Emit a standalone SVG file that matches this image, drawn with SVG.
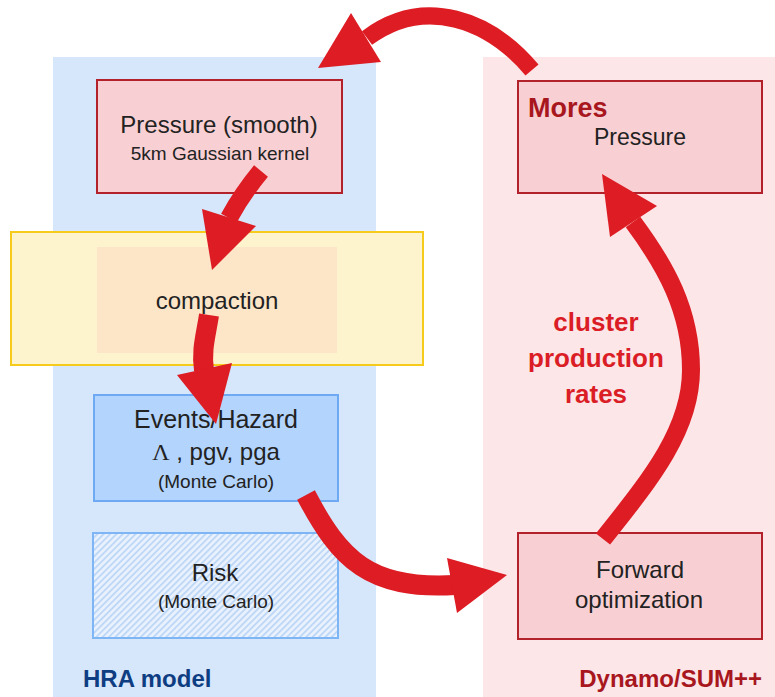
<svg xmlns="http://www.w3.org/2000/svg" width="775" height="697" viewBox="0 0 775 697">
  <style>
    .lbl { font-family: "Liberation Sans", Arial, sans-serif; fill: #222; text-anchor: middle; }
    .box-red { fill: #f8d0d3; stroke: #b3212b; stroke-width: 2; }
    .shaft { fill: none; stroke: #dd1c24; stroke-linecap: butt; }
    .head { fill: #dd1c24; }
  </style>
  <defs>
    <pattern id="hatch" width="4.5" height="4.5" patternUnits="userSpaceOnUse" patternTransform="rotate(45)">
      <rect width="4.5" height="4.5" fill="#eaf2fd"/>
      <line x1="1" y1="0" x2="1" y2="4.5" stroke="#bcd6f7" stroke-width="1.8"/>
    </pattern>
  </defs>

  <!-- background panels -->
  <g id="panels">
    <rect x="53" y="57" width="323" height="640" fill="#d6e7fb"/>
    <rect x="483" y="57" width="292" height="640" fill="#fce6e8"/>
  </g>

  <g id="compaction">
    <rect x="11" y="232" width="412" height="133" fill="#fdf3cc" stroke="#f7cb1b" stroke-width="2"/>
    <rect x="97" y="247" width="240" height="106" fill="#fde5c8"/>
    <text class="lbl" x="217" y="309" font-size="24">compaction</text>
  </g>

  <g id="pressure-smooth">
    <rect class="box-red" x="97" y="80" width="245" height="113"/>
    <text class="lbl" x="219" y="133" font-size="24">Pressure (smooth)</text>
    <text class="lbl" x="220" y="160" font-size="19">5km Gaussian kernel</text>
  </g>

  <g id="mores-pressure">
    <rect class="box-red" x="518" y="81" width="244" height="112"/>
    <text x="528" y="117" font-family="Liberation Sans, Arial, sans-serif" font-size="27" font-weight="bold" fill="#a8161e">Mores</text>
    <text class="lbl" x="640" y="145" font-size="23">Pressure</text>
  </g>

  <g id="events-hazard">
    <rect x="94" y="395" width="244" height="106" fill="#b3d4fc" stroke="#6daaf3" stroke-width="2"/>
    <text class="lbl" x="216" y="428" font-size="25">Events/Hazard</text>
    <text class="lbl" x="216" y="460" font-size="24"><tspan font-family="Liberation Serif, serif">Λ</tspan> , pgv, pga</text>
    <text class="lbl" x="216" y="488" font-size="19">(Monte Carlo)</text>
  </g>

  <g id="risk">
    <rect x="93" y="533" width="245" height="105" fill="url(#hatch)" stroke="#7db5f5" stroke-width="2"/>
    <text class="lbl" x="215" y="581" font-size="24">Risk</text>
    <text class="lbl" x="216" y="608" font-size="19">(Monte Carlo)</text>
  </g>

  <g id="forward-optimization">
    <rect class="box-red" x="518" y="533" width="244" height="106"/>
    <text class="lbl" x="640" y="578" font-size="24">Forward</text>
    <text class="lbl" x="639" y="608" font-size="24">optimization</text>
  </g>

  <!-- group titles -->
  <text x="83" y="687" font-family="Liberation Sans, Arial, sans-serif" font-size="24" font-weight="bold" fill="#0f3d82">HRA model</text>
  <text x="762" y="687" font-family="Liberation Sans, Arial, sans-serif" font-size="24" font-weight="bold" fill="#a8161e" text-anchor="end">Dynamo/SUM++</text>

  <!-- edge label -->
  <g id="edge-label" font-family="Liberation Sans, Arial, sans-serif" font-size="26" font-weight="bold" fill="#db1d26" text-anchor="middle">
    <text x="596" y="331">cluster</text>
    <text x="596" y="367">production</text>
    <text x="596" y="403">rates</text>
  </g>

  <!-- connectors -->
  <g id="connectors">
    <!-- Mores -> Pressure (smooth) -->
    <path class="shaft" stroke-width="17" d="M 532 70 C 490 20 425 -5 367 38"/>
    <polygon class="head" points="318,68 351,13 381,62"/>
    <!-- Pressure (smooth) -> compaction -->
    <path class="shaft" stroke-width="18" d="M 261 171 Q 242 194 229 218"/>
    <polygon class="head" points="212,270 202,209 256,226"/>
    <!-- compaction -> Events/Hazard -->
    <path class="shaft" stroke-width="20" d="M 209 315 C 206 335 201 350 204 370"/>
    <polygon class="head" points="216,424 177,375 232,363"/>
    <!-- Events/Hazard -> Forward optimization -->
    <path class="shaft" stroke-width="20" d="M 306 495 C 340 560 370 590 455 585"/>
    <polygon class="head" points="507,575 447,558 457,613"/>
    <!-- Forward optimization -> Mores -->
    <path class="shaft" stroke-width="18" d="M 603 539 C 650 480 691 430 691 370 C 691 310 665 265 633 222"/>
    <polygon class="head" points="602,174 657,206 610,237"/>
  </g>
</svg>
